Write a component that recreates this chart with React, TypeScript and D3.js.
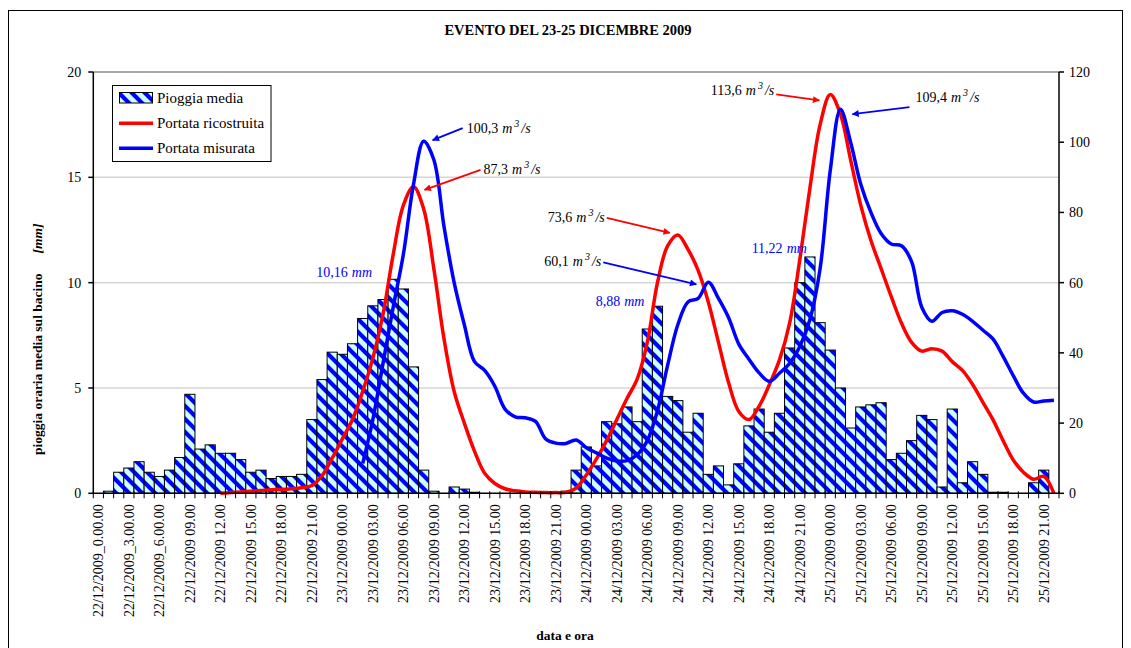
import React, { useEffect, useRef } from 'react';
import * as d3 from 'd3';

const WIDTH = 1131;
const HEIGHT = 648;
const PLOT = { left: 93.3, right: 1059, top: 72, bottom: 493.3 };
const FONT = "'Liberation Serif', 'Times New Roman', serif";
const RED = '#ff0000';
const BLUE = '#0000ff';

// one category per hour, 22/12/2009 00:00 -> 25/12/2009 22:00
const hours = d3.range(95);

// a label every 3 hours
const tickLabels = [
  '22/12/2009_0.00.00', '22/12/2009_3.00.00', '22/12/2009_6.00.00', '22/12/2009 09.00',
  '22/12/2009 12.00', '22/12/2009 15.00', '22/12/2009 18.00', '22/12/2009 21.00',
  '23/12/2009 00.00', '23/12/2009 03.00', '23/12/2009 06.00', '23/12/2009 09.00',
  '23/12/2009 12.00', '23/12/2009 15.00', '23/12/2009 18.00', '23/12/2009 21.00',
  '24/12/2009 00.00', '24/12/2009 03.00', '24/12/2009 06.00', '24/12/2009 09.00',
  '24/12/2009 12.00', '24/12/2009 15.00', '24/12/2009 18.00', '24/12/2009 21.00',
  '25/12/2009 00.00', '25/12/2009 03.00', '25/12/2009 06.00', '25/12/2009 09.00',
  '25/12/2009 12.00', '25/12/2009 15.00', '25/12/2009 18.00', '25/12/2009 21.00',
];

// pioggia media oraria [mm]
const pioggiaMedia = [
  0, 0.1, 1.0, 1.2, 1.5, 1.0, 0.8, 1.1, 1.7, 4.7,
  2.1, 2.3, 1.9, 1.9, 1.6, 1.0, 1.1, 0.7, 0.8, 0.8,
  0.9, 3.5, 5.4, 6.7, 6.6, 7.1, 8.3, 8.9, 9.2, 10.16,
  9.7, 6.0, 1.1, 0.1, 0, 0.3, 0.2, 0.05, 0, 0,
  0, 0, 0, 0, 0, 0, 0.1, 1.1, 2.2, 1.3,
  3.4, 3.3, 4.1, 3.4, 7.8, 8.88, 4.6, 4.4, 2.9, 3.8,
  0.9, 1.3, 0.4, 1.4, 3.2, 4.0, 2.9, 3.8, 6.9, 10.0,
  11.22, 8.1, 6.8, 5.0, 3.1, 4.1, 4.2, 4.3, 1.6, 1.9,
  2.5, 3.7, 3.5, 0.3, 4.0, 0.5, 1.5, 0.9, 0.05, 0.05,
  0, 0, 0.5, 1.1, 0,
];

// portata ricostruita [m3/s]
const portataRicostruita: (number | null)[] = [
  null, null, null, null, null, null, null, null, null, null,
  null, null, 0, 0.2, 0.4, 0.6, 0.8, 1.0, 1.1, 1.3,
  1.6, 2.2, 5.0, 10, 15.5, 21, 29, 38.5, 51, 68,
  82, 87.3, 81, 64, 44, 29, 20, 12, 5.7, 2.8,
  1.3, 0.7, 0.4, 0.3, 0.2, 0.2, 0.3, 1.5, 5.2, 9.8,
  15, 21, 27, 32.5, 43, 60, 70.5, 73.6, 69.5, 63.5,
  54.5, 43, 31.5, 23.3, 21, 24.8, 30.9, 38, 48.5, 66.5,
  87, 105, 113.6, 108, 95, 82, 72, 64, 56, 48.5,
  43, 40.5, 41.2, 40.5, 37.5, 35, 31, 26, 21, 15,
  9.5, 6, 4, 4.8, 0,
];

// portata misurata [m3/s]
const portataMisurata: (number | null)[] = [
  null, null, null, null, null, null, null, null, null, null,
  null, null, null, null, null, null, null, null, null, null,
  null, null, null, null, null, null, 8.5, 21, 37, 53,
  68, 88, 100.3, 95, 76, 60, 48, 37.5, 35, 30.5,
  24, 21.8, 21.5, 20.5, 15.5, 14.3, 14.2, 15.2, 13, 11.5,
  10, 9.2, 9.3, 11, 15, 23.5, 36.5, 48, 54.5, 55.5,
  60.1, 55.5, 50, 42.5, 38.2, 34.3, 31.9, 34.2, 37, 41.8,
  49.5, 64, 92, 109.4, 100, 88, 80, 74, 71, 70.5,
  66, 53, 49, 51.5, 52, 51, 49, 46.5, 44, 39,
  33.5, 28.5, 26, 26.3, 26.5,
];

const leftTicks = [0, 5, 10, 15, 20];
const rightTicks = [0, 20, 40, 60, 80, 100, 120];

// peak annotations (tip / tail are pixel offsets from the peak point)
const flowNotes = [
  { series: portataMisurata, hour: 32, color: BLUE, tip: [9, -1], tail: [39, -13], anchor: 'start', text: [4, 5] },
  { series: portataRicostruita, hour: 31, color: RED, tip: [11, 3], tail: [67, -17], anchor: 'start', text: [3, 4] },
  { series: portataRicostruita, hour: 57, color: RED, tip: [-8, -2], tail: [-71, -17], anchor: 'end', text: [-2, 4] },
  { series: portataMisurata, hour: 60, color: BLUE, tip: [-12, 2], tail: [-105, -20], anchor: 'end', text: [-2, 4] },
  { series: portataRicostruita, hour: 72, color: RED, tip: [-11, 6], tail: [-54, 0], anchor: 'end', text: [-2, 1] },
  { series: portataMisurata, hour: 73, color: BLUE, tip: [12, 5], tail: [69, -2], anchor: 'start', text: [6, -5] },
];

const rainNotes = [
  { hour: 29, dx: -16, dy: -2 },
  { hour: 55, dx: -8, dy: 0 },
  { hour: 70, dx: 2, dy: -4 },
];

const App = () => {
  const svgRef = useRef<SVGSVGElement | null>(null);

  useEffect(() => {
    if (!svgRef.current) return;
    const svg = d3.select(svgRef.current);
    svg.selectAll('*').remove();

    const x = d3.scaleBand<number>().domain(hours).range([PLOT.left, PLOT.right]).padding(0);
    const bw = x.bandwidth();
    const xc = (i: number) => (x(i) as number) + bw / 2;
    const yLeft = d3.scaleLinear().domain([0, 20]).range([PLOT.bottom, PLOT.top]);
    const yRight = d3.scaleLinear().domain([0, 120]).range([PLOT.bottom, PLOT.top]);

    const defs = svg.append('defs');
    const pat = defs.append('pattern')
      .attr('id', 'rainHatch')
      .attr('patternUnits', 'userSpaceOnUse')
      .attr('width', 13)
      .attr('height', 13);
    pat.append('rect').attr('width', 13).attr('height', 13).attr('fill', '#ccffff');
    pat.append('path')
      .attr('d', 'M-6.5,-6.5L19.5,19.5M-19.5,-6.5L6.5,19.5M6.5,-6.5L32.5,19.5')
      .attr('stroke', BLUE)
      .attr('stroke-width', 4.2);

    svg.append('rect')
      .attr('width', WIDTH).attr('height', HEIGHT).attr('fill', '#ffffff');

    // chart frame
    svg.append('rect')
      .attr('x', 8.5).attr('y', 10.5)
      .attr('width', 1114).attr('height', 700)
      .attr('fill', 'none').attr('stroke', '#000').attr('stroke-width', 1);

    // title
    svg.append('text')
      .attr('x', 568).attr('y', 35)
      .attr('text-anchor', 'middle')
      .attr('font-family', FONT).attr('font-size', 14.5).attr('font-weight', 'bold')
      .text('EVENTO DEL 23-25 DICEMBRE 2009');

    // gridlines
    svg.append('g').selectAll('line')
      .data(leftTicks.filter(t => t > 0))
      .enter().append('line')
      .attr('x1', PLOT.left).attr('x2', PLOT.right)
      .attr('y1', d => yLeft(d)).attr('y2', d => yLeft(d))
      .attr('stroke', d => (d === 20 ? '#8c8c8c' : '#d6d6d6'))
      .attr('stroke-width', 1.5);

    // bars
    svg.append('g').selectAll('rect')
      .data(pioggiaMedia.map((v, i) => ({ v, i })).filter(d => d.v > 0))
      .enter().append('rect')
      .attr('x', d => x(d.i) as number)
      .attr('y', d => yLeft(d.v))
      .attr('width', bw)
      .attr('height', d => PLOT.bottom - yLeft(d.v))
      .attr('fill', 'url(#rainHatch)')
      .attr('stroke', '#000')
      .attr('stroke-width', 1);

    // lines
    const line = d3.line<number | null>()
      .defined(d => d != null)
      .x((_, i) => xc(i))
      .y(d => yRight(d as number))
      .curve(d3.curveCatmullRom.alpha(0.5));

    svg.append('path')
      .attr('d', line(portataRicostruita))
      .attr('fill', 'none').attr('stroke', RED).attr('stroke-width', 3.5)
      .attr('stroke-linejoin', 'round');
    svg.append('path')
      .attr('d', line(portataMisurata))
      .attr('fill', 'none').attr('stroke', BLUE).attr('stroke-width', 3.5)
      .attr('stroke-linejoin', 'round');

    // axes
    const axisG = svg.append('g').attr('font-family', FONT);
    axisG.append('line')
      .attr('x1', PLOT.left).attr('x2', PLOT.left)
      .attr('y1', PLOT.top).attr('y2', PLOT.bottom)
      .attr('stroke', '#000').attr('stroke-width', 1.5);
    axisG.append('line')
      .attr('x1', PLOT.right).attr('x2', PLOT.right)
      .attr('y1', PLOT.top).attr('y2', PLOT.bottom)
      .attr('stroke', '#000').attr('stroke-width', 1.5);
    axisG.append('line')
      .attr('x1', PLOT.left).attr('x2', PLOT.right)
      .attr('y1', PLOT.bottom).attr('y2', PLOT.bottom)
      .attr('stroke', '#000').attr('stroke-width', 1.5);

    leftTicks.forEach(t => {
      axisG.append('line')
        .attr('x1', PLOT.left - 5).attr('x2', PLOT.left)
        .attr('y1', yLeft(t)).attr('y2', yLeft(t))
        .attr('stroke', '#000').attr('stroke-width', 1.5);
      axisG.append('text')
        .attr('x', PLOT.left - 12).attr('y', yLeft(t) + 5)
        .attr('text-anchor', 'end').attr('font-size', 14)
        .text(t);
    });

    rightTicks.forEach(t => {
      axisG.append('line')
        .attr('x1', PLOT.right).attr('x2', PLOT.right + 5)
        .attr('y1', yRight(t)).attr('y2', yRight(t))
        .attr('stroke', '#000').attr('stroke-width', 1.5);
      axisG.append('text')
        .attr('x', PLOT.right + 10).attr('y', yRight(t) + 5)
        .attr('text-anchor', 'start').attr('font-size', 14)
        .text(t);
    });

    // hourly ticks on the category axis
    d3.range(hours.length + 1).forEach(i => {
      const tx = PLOT.left + i * bw;
      axisG.append('line')
        .attr('x1', tx).attr('x2', tx)
        .attr('y1', PLOT.bottom - 2).attr('y2', PLOT.bottom + 5)
        .attr('stroke', '#000').attr('stroke-width', 1);
    });

    tickLabels.forEach((lab, k) => {
      axisG.append('text')
        .attr('transform', `translate(${xc(k * 3) + 5},${PLOT.bottom + 11}) rotate(-90)`)
        .attr('text-anchor', 'end')
        .attr('font-size', 14)
        .text(lab);
    });

    // axis titles
    axisG.append('text')
      .attr('x', 565).attr('y', 640)
      .attr('text-anchor', 'middle')
      .attr('font-size', 13.5).attr('font-weight', 'bold')
      .text('data e ora');

    const yTitle = axisG.append('text')
      .attr('transform', 'translate(42,455) rotate(-90)')
      .attr('text-anchor', 'start')
      .attr('font-size', 13.5).attr('font-weight', 'bold');
    yTitle.append('tspan').text('pioggia oraria media sul bacino');
    yTitle.append('tspan').attr('dx', 20).attr('font-style', 'italic').text('[mm]');

    // flow peak annotations
    const notes = svg.append('g').attr('font-family', FONT).attr('font-size', 14);
    flowNotes.forEach((n, idx) => {
      const val = n.series[n.hour] as number;
      const px = xc(n.hour);
      const py = yRight(val);
      const tip = [px + n.tip[0], py + n.tip[1]];
      const tail = [px + n.tail[0], py + n.tail[1]];
      const markerId = `arrow${idx}`;
      defs.append('marker')
        .attr('id', markerId)
        .attr('viewBox', '0 0 10 10')
        .attr('refX', 9).attr('refY', 5)
        .attr('markerWidth', 9).attr('markerHeight', 7)
        .attr('markerUnits', 'userSpaceOnUse')
        .attr('orient', 'auto')
        .append('path').attr('d', 'M0,0L10,5L0,10Z').attr('fill', n.color);
      notes.append('line')
        .attr('x1', tail[0]).attr('y1', tail[1])
        .attr('x2', tip[0]).attr('y2', tip[1])
        .attr('stroke', n.color).attr('stroke-width', 1.8)
        .attr('marker-end', `url(#${markerId})`);
      const t = notes.append('text')
        .attr('x', tail[0] + n.text[0]).attr('y', tail[1] + n.text[1])
        .attr('text-anchor', n.anchor)
        .attr('fill', '#000');
      t.append('tspan').text(val.toFixed(1).replace('.', ','));
      t.append('tspan').attr('dx', 4).attr('font-style', 'italic').text('m');
      t.append('tspan').attr('dx', 2).attr('dy', -6).attr('font-size', 10).attr('font-style', 'italic').text('3');
      t.append('tspan').attr('dx', 2).attr('dy', 6).attr('font-style', 'italic').text('/s');
    });

    // rainfall peak labels
    rainNotes.forEach(n => {
      const v = pioggiaMedia[n.hour];
      const t = notes.append('text')
        .attr('x', (x(n.hour) as number) + n.dx)
        .attr('y', yLeft(v) + n.dy)
        .attr('text-anchor', 'end')
        .attr('fill', BLUE);
      t.append('tspan').text(v.toFixed(2).replace('.', ','));
      t.append('tspan').attr('dx', 4).attr('font-style', 'italic').text('mm');
    });

    // legend
    const lg = svg.append('g').attr('font-family', FONT).attr('font-size', 15);
    lg.append('rect')
      .attr('x', 112.5).attr('y', 85.5).attr('width', 158.5).attr('height', 76)
      .attr('fill', '#fff').attr('stroke', '#000').attr('stroke-width', 1);
    lg.append('rect')
      .attr('x', 119.5).attr('y', 92.5).attr('width', 33).attr('height', 10.5)
      .attr('fill', 'url(#rainHatch)').attr('stroke', '#000').attr('stroke-width', 1);
    lg.append('text').attr('x', 157).attr('y', 103).text('Pioggia media');
    lg.append('line')
      .attr('x1', 119).attr('x2', 153).attr('y1', 123.3).attr('y2', 123.3)
      .attr('stroke', RED).attr('stroke-width', 3.5);
    lg.append('text').attr('x', 157).attr('y', 127.5).text('Portata ricostruita');
    lg.append('line')
      .attr('x1', 119).attr('x2', 153).attr('y1', 148.3).attr('y2', 148.3)
      .attr('stroke', BLUE).attr('stroke-width', 3.5);
    lg.append('text').attr('x', 157).attr('y', 153).text('Portata misurata');
  }, []);

  return (
    <svg
      ref={svgRef}
      width={WIDTH}
      height={HEIGHT}
      style={{ position: 'absolute', left: 0, top: 0 }}
    />
  );
};

export default App;
